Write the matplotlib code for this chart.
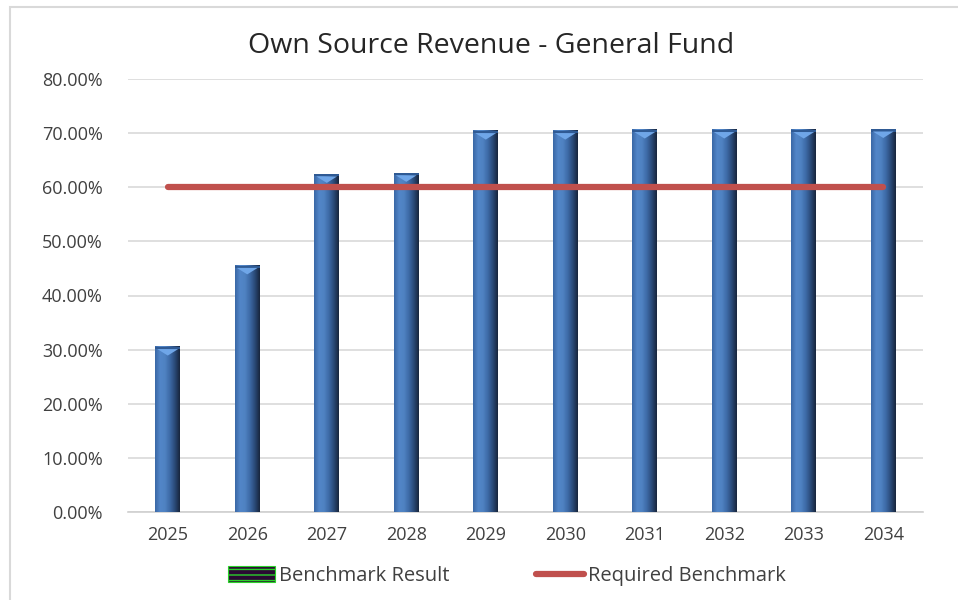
import numpy as np
import matplotlib
matplotlib.use("Agg")
import matplotlib.pyplot as plt
from matplotlib.colors import LinearSegmentedColormap
from matplotlib.patches import Polygon, Rectangle, Patch
from matplotlib.lines import Line2D
from matplotlib.ticker import PercentFormatter

plt.rcParams['font.family'] = ['Open Sans', 'DejaVu Sans']

# Datos del gráfico
years = ['2025', '2026', '2027', '2028', '2029', '2030', '2031', '2032', '2033', '2034']
benchmark_result = [0.305, 0.455, 0.624, 0.626, 0.704, 0.704, 0.706, 0.706, 0.706, 0.707]
required_benchmark = [0.60] * len(years)

title = 'Own Source Revenue - General Fund'
label_result = 'Benchmark Result'
label_required = 'Required Benchmark'

# Degradado horizontal para imitar las barras biseladas
bar_cmap = LinearSegmentedColormap.from_list(
    'bevel', ['#3a68a6', '#5286c8', '#4f82c2', '#3d6aa6', '#2a4a78', '#18263d'])
grad = np.linspace(0, 1, 64).reshape(1, -1)

fig = plt.figure(figsize=(9.58, 6.0), dpi=100)
ax = fig.add_axes([128 / 958, 88 / 600, 795 / 958, 433 / 600])

x = np.arange(len(years))
width = 0.31

for xi, v in zip(x, benchmark_result):
    left = xi - width / 2
    ax.imshow(grad, cmap=bar_cmap, aspect='auto', interpolation='bilinear',
              extent=(left, left + width, 0, v), zorder=3)
    # bisel superior
    cap = 0.004
    ax.add_patch(Rectangle((left, v - cap), width, cap, color='#2f5a94', zorder=4, lw=0))
    ax.add_patch(Polygon([[left + width * 0.08, v - cap], [left + width * 0.92, v - cap],
                          [xi, v - 0.016]], closed=True, color='#6fa6e8', lw=0, zorder=4))

ax.plot(x, required_benchmark, color='#C0504D', lw=4.5, solid_capstyle='round', zorder=5)

ax.set_xlim(-0.5, len(years) - 0.5)
ax.set_ylim(0, 0.8)
ax.set_yticks(np.arange(0, 0.81, 0.1))
ax.yaxis.set_major_formatter(PercentFormatter(1.0, decimals=2))
ax.set_xticks(x)
ax.set_xticklabels(years)
ax.tick_params(length=0, labelsize=13, colors='#404040', pad=10)
ax.tick_params(axis='y', pad=18)
ax.grid(axis='y', color='#D9D9D9', lw=1.2, zorder=0)
for s in ['top', 'right', 'left']:
    ax.spines[s].set_visible(False)
ax.spines['bottom'].set_color('#D0D0D0')
ax.spines['bottom'].set_linewidth(1.2)

fig.text(491 / 958, 1 - 46 / 600, title, ha='center', va='center', fontsize=20.5, color='#262626')

# Borde del área del gráfico
fig.add_artist(Rectangle((10 / 958, -0.1), 1.2, 1 - 7 / 600 + 0.1, transform=fig.transFigure,
                         fill=False, edgecolor='#D9D9D9', lw=1.5))

handles = [Patch(facecolor='#2a0b33', edgecolor='#2bd12b', hatch='---', lw=0.8),
           Line2D([0], [0], color='#C0504D', lw=4.5, solid_capstyle='round')]
fig.legend(handles, [label_result, label_required], loc='center',
           bbox_to_anchor=(0.529, 1 - 576 / 600), ncol=2, frameon=False,
           fontsize=14.5, handlelength=2.35, handleheight=0.8, handletextpad=0.2,
           columnspacing=4.3, labelcolor='#404040')

fig.savefig('out.png', dpi=100)
